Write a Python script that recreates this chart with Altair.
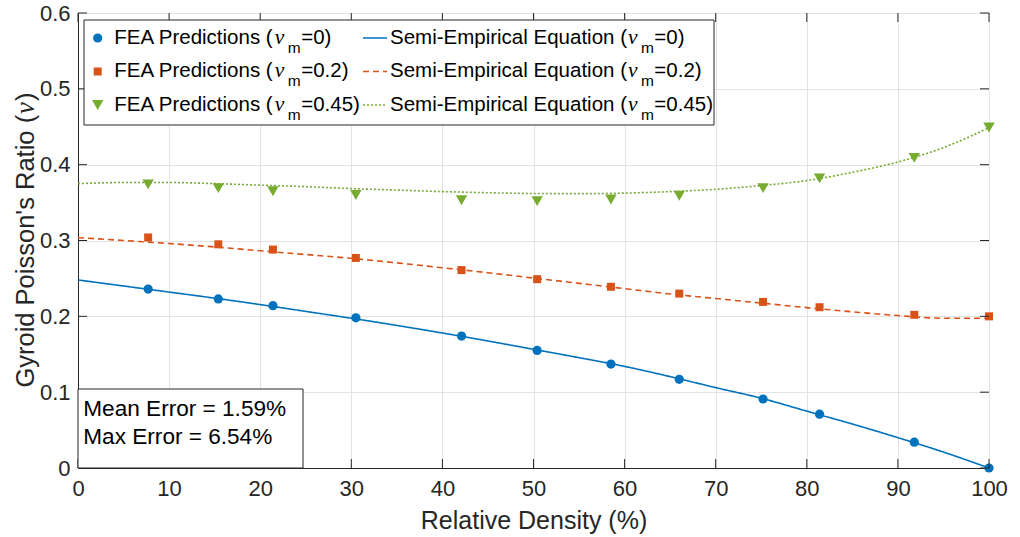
import altair as alt
import pandas as pd

# ---------------- data ----------------
x_fea = [7.7, 15.4, 21.4, 30.5, 42.1, 50.4, 58.5, 66.0, 75.2, 81.4, 91.8, 100.0]
fea_v0 = [0.236, 0.223, 0.214, 0.198, 0.174, 0.155, 0.137, 0.117, 0.091, 0.071, 0.034, 0.0]
fea_v02 = [0.304, 0.295, 0.288, 0.277, 0.261, 0.249, 0.239, 0.230, 0.219, 0.212, 0.202, 0.200]
fea_v045 = [0.374, 0.369, 0.365, 0.360, 0.353, 0.352, 0.354, 0.359, 0.369, 0.382, 0.409, 0.449]

x_curve = [0, 5, 10, 15, 20, 25, 30, 35, 40, 45, 50, 55, 60, 65, 70, 75, 80, 85, 90, 95, 100]
curve_v0 = [0.248, 0.240, 0.232, 0.224, 0.2155, 0.2065, 0.1975, 0.188, 0.178, 0.1675, 0.1565,
            0.1455, 0.134, 0.1205, 0.106, 0.092, 0.075, 0.058, 0.040, 0.021, 0.0]
curve_v02 = [0.3037, 0.300, 0.296, 0.2915, 0.2865, 0.2815, 0.2765, 0.2705, 0.264, 0.2575, 0.2505,
             0.2435, 0.2365, 0.2295, 0.2235, 0.2175, 0.2115, 0.206, 0.201, 0.1975, 0.1975]
curve_v045 = [0.3749, 0.3765, 0.3765, 0.375, 0.373, 0.371, 0.3685, 0.3665, 0.3645, 0.363, 0.362,
              0.3618, 0.3625, 0.3645, 0.3675, 0.3725, 0.379, 0.390, 0.4035, 0.4225, 0.4488]

x_ticks = [0, 10, 20, 30, 40, 50, 60, 70, 80, 90, 100]
y_ticks = [0, 0.1, 0.2, 0.3, 0.4, 0.5, 0.6]

series_nu = ["0", "0.2", "0.45"]
colors = ["#0072BD", "#D95319", "#77AC30"]
fea_series = [fea_v0, fea_v02, fea_v045]
curve_series = [curve_v0, curve_v02, curve_v045]
shapes = ["circle", "square", "triangle-down"]
marker_sizes = [85, 64, 130]
dashes = [[1, 0], [6, 4], [2, 2]]

stats_text = ["Mean Error = 1.59%", "Max Error = 6.54%"]

# ---------------- layout ----------------
W, H = 911, 455
FONT = "Liberation Sans"
SERIF = "Liberation Serif"
DARK = "#262626"

AW = {' ': 278, '(': 333, ')': 333, '=': 584, '.': 278, '%': 889, '-': 333, "'": 191,
      '0': 556, '1': 556, '2': 556, '3': 556, '4': 556, '5': 556, '6': 556, '7': 556, '8': 556, '9': 556,
      'A': 667, 'E': 667, 'F': 611, 'P': 667, 'S': 667, 'M': 833, 'G': 778, 'R': 722, 'D': 722,
      'a': 556, 'c': 500, 'd': 556, 'e': 556, 'i': 222, 'l': 222, 'm': 833, 'n': 556, 'o': 556,
      'p': 556, 'q': 556, 'r': 333, 's': 500, 't': 278, 'u': 556, 'v': 500, 'y': 500, 'x': 500}


def tw(s, size):
    return sum(AW.get(c, 556) for c in s) * size / 1000.0


xscale = alt.Scale(domain=[0, 100], nice=False, zero=False)
yscale = alt.Scale(domain=[0, 0.6], nice=False, zero=False)
xaxis = alt.Axis(values=x_ticks, grid=True, ticks=False, title="Relative Density (%)",
                 labelFontSize=22, labelPadding=10, labelFlush=False,
                 titleFontSize=25, titlePadding=9, titleFontWeight="normal")
yaxis = alt.Axis(values=y_ticks, grid=True, ticks=False, title=None,
                 labelFontSize=22, labelPadding=8, labelFlush=False,
                 labelExpr="datum.value == 0 ? '0' : format(datum.value, '.1f')")

layers = []

# curves
for nu, col, ys, dash in zip(series_nu, colors, curve_series, dashes):
    df = pd.DataFrame({"x": x_curve, "y": ys})
    layers.append(
        alt.Chart(df).mark_line(color=col, strokeWidth=1.6, strokeDash=dash, interpolate="monotone")
        .encode(x=alt.X("x:Q", scale=xscale, axis=xaxis), y=alt.Y("y:Q", scale=yscale, axis=yaxis))
    )

# FEA markers
for nu, col, ys, shp, sz in zip(series_nu, colors, fea_series, shapes, marker_sizes):
    df = pd.DataFrame({"x": x_fea, "y": ys})
    layers.append(
        alt.Chart(df).mark_point(shape=shp, filled=True, color=col, size=sz, opacity=1)
        .encode(x=alt.X("x:Q", scale=xscale, axis=xaxis), y=alt.Y("y:Q", scale=yscale, axis=yaxis))
    )

# inward ticks on all four sides
xt = pd.DataFrame({"x": x_ticks})
yt = pd.DataFrame({"y": y_ticks})
TL = 9
layers.append(alt.Chart(xt).mark_rule(color=DARK, strokeWidth=1).encode(
    x=alt.X("x:Q", scale=xscale, axis=xaxis), y=alt.value(H), y2=alt.value(H - TL)))
layers.append(alt.Chart(xt).mark_rule(color=DARK, strokeWidth=1).encode(
    x=alt.X("x:Q", scale=xscale, axis=xaxis), y=alt.value(0), y2=alt.value(TL)))
layers.append(alt.Chart(yt).mark_rule(color=DARK, strokeWidth=1).encode(
    y=alt.Y("y:Q", scale=yscale, axis=yaxis), x=alt.value(0), x2=alt.value(TL)))
layers.append(alt.Chart(yt).mark_rule(color=DARK, strokeWidth=1).encode(
    y=alt.Y("y:Q", scale=yscale, axis=yaxis), x=alt.value(W), x2=alt.value(W - TL)))

dummy = pd.DataFrame({"a": [0]})


def txt(text, x, y, size, font=FONT, style="normal", color="#000000", angle=0, align="left"):
    return alt.Chart(dummy).mark_text(text=text, font=font, fontSize=size, fontStyle=style,
                                      color=color, align=align, baseline="alphabetic", angle=angle).encode(
        x=alt.value(x), y=alt.value(y))


# legend box
layers.append(alt.Chart(dummy).mark_rect(fill="white", stroke=DARK, strokeWidth=1).encode(
    x=alt.value(6), x2=alt.value(636), y=alt.value(7), y2=alt.value(112)))

LF = 20.5
SF = 15.5
row_base = [30.5, 64.0, 97.5]
col_x = [36.3, 312.0]
for i, (nu, col, shp, sz, dash) in enumerate(zip(series_nu, colors, shapes, marker_sizes, dashes)):
    yb = row_base[i]
    yc = yb - 5.5
    # marker symbol
    layers.append(alt.Chart(dummy).mark_point(shape=shp, filled=True, color=col, size=sz, opacity=1).encode(
        x=alt.value(19.7), y=alt.value(yc)))
    # line symbol
    layers.append(alt.Chart(dummy).mark_rule(color=col, strokeWidth=1.6, strokeDash=dash).encode(
        x=alt.value(285), x2=alt.value(309), y=alt.value(yc), y2=alt.value(yc)))
    for cx, prefix in zip(col_x, ["FEA Predictions (", "Semi-Empirical Equation ("]):
        layers.append(txt(prefix, cx, yb, LF))
        nx = cx + tw(prefix, LF) + 1
        layers.append(txt("ν", nx, yb, LF + 1, font=SERIF, style="italic"))
        mx = nx + 13
        layers.append(txt("m", mx, yb + 9, SF))
        rx = mx + tw("m", SF) + 0.5
        layers.append(txt("=" + nu + ")", rx, yb, LF))

# statistics box
layers.append(alt.Chart(dummy).mark_rect(fill="white", stroke=DARK, strokeWidth=1).encode(
    x=alt.value(0), x2=alt.value(225), y=alt.value(376), y2=alt.value(H)))
layers.append(txt(stats_text[0], 5.3, 403, 22.6))
layers.append(txt(stats_text[1], 5.3, 431, 22.6))

# y-axis title (manual, to allow an italic nu)
YF = 25.5
ytitle_a = "Gyroid Poisson's Ratio ("
total = tw(ytitle_a, YF) + 13 + tw(")", YF)
y0 = H / 2 + total / 2
xb = -44
layers.append(txt(ytitle_a, xb, y0, YF, color=DARK, angle=270))
layers.append(txt("ν", xb, y0 - tw(ytitle_a, YF) - 1, YF + 1, font=SERIF, style="italic", color=DARK, angle=270))
layers.append(txt(")", xb, y0 - tw(ytitle_a, YF) - 14, YF, color=DARK, angle=270))

chart = alt.layer(*layers).properties(
    width=W, height=H,
    autosize=alt.AutoSizeParams(type="none"),
    padding={"left": 78, "top": 13, "right": 31, "bottom": 69},
    background="white",
).configure_view(stroke=DARK, strokeWidth=1).configure_axis(
    domainColor=DARK, labelColor=DARK, titleColor=DARK, gridColor="#e3e3e3",
    labelFont=FONT, titleFont=FONT, gridWidth=1
)

chart.save("out.html", embed_options={"renderer": "svg", "actions": False})
